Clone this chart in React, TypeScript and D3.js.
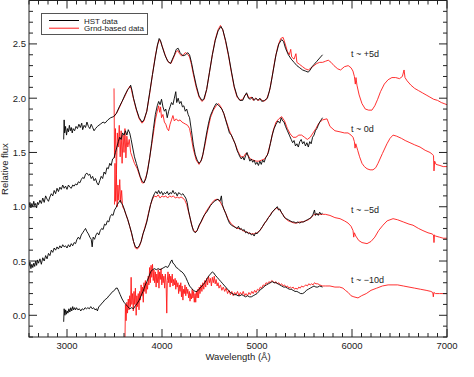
import React from "react";
import * as d3 from "d3";

type P = [number, number];

// Spectra: [wavelength (Å), relative flux]
const hstPlus5: P[] = [[2965,1.62],[2970,1.80],[2975,1.68],[2985,1.74],[2995,1.66],[3005,1.72],[3015,1.69],[3025,1.75],[3035,1.70],[3045,1.73],[3055,1.68],[3065,1.72],[3080,1.70],[3095,1.74],[3110,1.72],[3125,1.76],[3140,1.73],[3155,1.77],[3165,1.71],[3180,1.75],[3195,1.73],[3210,1.78],[3225,1.74],[3240,1.72],[3255,1.76],[3270,1.73],[3285,1.70],[3300,1.72],[3320,1.74],[3350,1.76],[3380,1.78],[3400,1.77],[3430,1.80],[3460,1.82],[3490,1.83],[3520,1.86],[3550,1.92],[3580,1.97],[3610,2.03],[3640,2.08],[3660,2.10],[3670,2.12],[3685,2.07],[3700,2.00],[3730,1.90],[3760,1.82],[3790,1.78],[3810,1.80],[3840,1.88],[3870,2.05],[3900,2.22],[3930,2.38],[3950,2.48],[3970,2.55],[3985,2.53],[4000,2.48],[4030,2.40],[4060,2.34],[4090,2.32],[4110,2.36],[4130,2.40],[4150,2.45],[4170,2.46],[4190,2.42],[4220,2.39],[4250,2.40],[4270,2.42],[4290,2.40],[4310,2.33],[4330,2.24],[4360,2.12],[4390,2.02],[4420,1.98],[4440,1.99],[4470,2.08],[4500,2.24],[4530,2.40],[4560,2.53],[4590,2.62],[4620,2.66],[4640,2.63],[4670,2.53],[4700,2.40],[4730,2.25],[4760,2.11],[4790,2.02],[4820,1.98],[4850,1.98],[4870,2.02],[4890,2.05],[4910,2.00],[4930,1.99],[4950,2.01],[4970,1.98],[4990,2.00],[5010,1.98],[5030,2.00],[5050,1.97],[5080,1.98],[5110,2.00],[5140,2.10],[5170,2.25],[5200,2.40],[5230,2.50],[5260,2.54],[5280,2.52],[5300,2.46],[5330,2.40],[5360,2.36],[5390,2.33],[5420,2.30],[5450,2.28],[5480,2.26],[5510,2.25],[5540,2.24],[5560,2.26],[5580,2.29],[5600,2.31],[5630,2.34],[5660,2.37],[5690,2.40]];

const grndPlus5: P[] = [[3495,1.83],[3520,1.86],[3550,1.91],[3580,1.97],[3610,2.02],[3640,2.08],[3660,2.11],[3675,2.09],[3690,2.03],[3710,1.96],[3730,1.89],[3760,1.81],[3790,1.77],[3810,1.79],[3840,1.88],[3870,2.04],[3900,2.22],[3930,2.39],[3955,2.50],[3975,2.54],[3990,2.51],[4010,2.46],[4040,2.38],[4070,2.33],[4095,2.32],[4120,2.37],[4145,2.42],[4165,2.44],[4185,2.41],[4205,2.39],[4225,2.40],[4245,2.42],[4265,2.41],[4290,2.38],[4310,2.31],[4330,2.22],[4360,2.10],[4390,2.01],[4420,1.97],[4445,1.99],[4470,2.08],[4500,2.24],[4530,2.40],[4560,2.54],[4590,2.63],[4615,2.67],[4640,2.63],[4670,2.52],[4700,2.39],[4730,2.24],[4760,2.10],[4790,2.01],[4820,1.98],[4850,1.99],[4875,2.03],[4895,2.04],[4915,2.00],[4940,2.01],[4960,1.98],[4985,2.00],[5010,1.98],[5040,1.99],[5070,1.97],[5100,1.99],[5130,2.06],[5160,2.20],[5190,2.36],[5220,2.48],[5250,2.55],[5275,2.56],[5300,2.49],[5320,2.43],[5340,2.40],[5355,2.45],[5365,2.38],[5390,2.36],[5410,2.41],[5420,2.33],[5450,2.31],[5480,2.29],[5510,2.27],[5540,2.26],[5570,2.28],[5600,2.30],[5630,2.32],[5660,2.33],[5690,2.33],[5720,2.34],[5750,2.35],[5780,2.33],[5810,2.30],[5850,2.27],[5880,2.26],[5920,2.29],[5960,2.30],[5990,2.28],[6010,2.25],[6025,2.20],[6035,2.13],[6042,2.19],[6052,2.12],[6075,2.03],[6105,1.95],[6140,1.90],[6175,1.89],[6210,1.89],[6240,1.93],[6270,1.99],[6300,2.06],[6340,2.13],[6380,2.17],[6420,2.19],[6460,2.19],[6500,2.18],[6530,2.20],[6548,2.26],[6558,2.19],[6580,2.16],[6620,2.12],[6660,2.09],[6700,2.07],[6740,2.05],[6780,2.03],[6820,2.01],[6860,1.99],[6900,1.98],[6940,1.96],[6970,1.95],[7000,1.94]];

const hstZero: P[] = [[2600,1.00],[2610,1.04],[2620,0.99],[2630,1.03],[2640,1.00],[2650,1.05],[2660,1.01],[2670,1.03],[2680,0.99],[2690,1.04],[2700,1.02],[2715,1.06],[2730,1.03],[2745,1.08],[2760,1.04],[2775,1.10],[2790,1.07],[2805,1.05],[2820,1.09],[2835,1.12],[2850,1.10],[2865,1.15],[2880,1.12],[2895,1.17],[2910,1.14],[2925,1.18],[2940,1.16],[2955,1.20],[2970,1.17],[2985,1.19],[3000,1.16],[3015,1.20],[3030,1.18],[3045,1.17],[3060,1.20],[3075,1.19],[3090,1.21],[3105,1.20],[3120,1.23],[3135,1.22],[3150,1.25],[3165,1.27],[3180,1.26],[3195,1.30],[3210,1.31],[3225,1.29],[3240,1.30],[3255,1.26],[3270,1.28],[3285,1.24],[3300,1.26],[3315,1.22],[3330,1.20],[3345,1.24],[3360,1.28],[3375,1.26],[3390,1.32],[3405,1.30],[3420,1.36],[3435,1.35],[3450,1.40],[3465,1.38],[3480,1.44],[3495,1.45],[3510,1.50],[3525,1.55],[3540,1.60],[3555,1.64],[3570,1.62],[3585,1.68],[3600,1.66],[3615,1.70],[3630,1.66],[3645,1.71],[3660,1.68],[3675,1.62],[3690,1.55],[3710,1.46],[3730,1.40],[3750,1.34],[3770,1.28],[3790,1.24],[3810,1.22],[3830,1.26],[3850,1.34],[3870,1.45],[3890,1.58],[3910,1.72],[3930,1.85],[3950,1.93],[3965,1.97],[3980,1.94],[3995,1.99],[4010,1.92],[4025,1.88],[4040,1.90],[4055,1.82],[4070,1.88],[4085,1.92],[4100,1.96],[4115,1.94],[4130,2.00],[4145,2.06],[4155,1.96],[4170,2.00],[4185,1.95],[4200,1.97],[4215,1.92],[4230,1.93],[4245,1.88],[4260,1.90],[4275,1.85],[4290,1.82],[4310,1.70],[4330,1.57],[4350,1.48],[4370,1.43],[4390,1.40],[4410,1.42],[4430,1.48],[4450,1.58],[4470,1.68],[4490,1.77],[4510,1.84],[4530,1.88],[4550,1.92],[4570,1.95],[4590,1.94],[4610,1.92],[4630,1.90],[4650,1.86],[4670,1.80],[4690,1.74],[4710,1.68],[4730,1.66],[4750,1.62],[4770,1.58],[4790,1.52],[4805,1.49],[4820,1.46],[4835,1.44],[4850,1.46],[4865,1.43],[4880,1.47],[4895,1.50],[4910,1.46],[4925,1.42],[4940,1.44],[4955,1.41],[4970,1.43],[4985,1.39],[5000,1.41],[5015,1.38],[5030,1.42],[5045,1.39],[5060,1.43],[5075,1.41],[5090,1.45],[5105,1.47],[5120,1.50],[5140,1.58],[5160,1.66],[5180,1.72],[5200,1.76],[5220,1.79],[5240,1.77],[5255,1.82],[5270,1.79],[5285,1.78],[5300,1.74],[5320,1.70],[5340,1.66],[5360,1.62],[5375,1.59],[5390,1.61],[5405,1.56],[5420,1.58],[5435,1.55],[5450,1.60],[5465,1.62],[5480,1.58],[5495,1.60],[5510,1.56],[5525,1.59],[5540,1.55],[5555,1.60],[5570,1.58],[5585,1.64],[5600,1.66],[5615,1.70],[5630,1.72],[5645,1.75],[5660,1.78],[5675,1.80],[5690,1.82]];

const grndZero: P[] = [[3495,2.09],[3500,1.45],[3510,1.72],[3520,1.30],[3530,1.68],[3540,1.55],[3550,1.75],[3560,1.46],[3570,1.70],[3580,1.40],[3590,1.66],[3600,1.50],[3610,1.72],[3620,1.45],[3630,1.65],[3640,1.55],[3655,1.62],[3670,1.50],[3690,1.45],[3710,1.40],[3740,1.35],[3770,1.27],[3790,1.22],[3810,1.22],[3840,1.30],[3870,1.45],[3900,1.62],[3930,1.80],[3950,1.88],[3965,1.93],[3975,1.87],[3985,1.92],[3995,1.82],[4010,1.85],[4025,1.78],[4040,1.76],[4055,1.72],[4070,1.70],[4085,1.76],[4100,1.80],[4115,1.84],[4130,1.79],[4150,1.81],[4170,1.79],[4190,1.80],[4210,1.78],[4230,1.77],[4250,1.76],[4270,1.75],[4290,1.72],[4310,1.63],[4330,1.53],[4360,1.43],[4390,1.39],[4420,1.44],[4450,1.56],[4480,1.70],[4510,1.82],[4540,1.89],[4570,1.93],[4595,1.95],[4620,1.92],[4650,1.86],[4680,1.78],[4710,1.70],[4740,1.64],[4770,1.58],[4800,1.51],[4830,1.46],[4860,1.46],[4880,1.49],[4900,1.48],[4930,1.44],[4960,1.43],[4990,1.42],[5020,1.42],[5050,1.43],[5080,1.44],[5110,1.48],[5140,1.58],[5170,1.70],[5200,1.78],[5230,1.81],[5260,1.83],[5290,1.79],[5320,1.72],[5350,1.67],[5380,1.64],[5410,1.64],[5440,1.66],[5470,1.66],[5500,1.64],[5530,1.62],[5560,1.64],[5590,1.68],[5620,1.72],[5650,1.77],[5690,1.80],[5737,1.81],[5768,1.74],[5820,1.70],[5874,1.69],[5920,1.68],[5958,1.68],[5990,1.66],[6011,1.64],[6025,1.60],[6032,1.54],[6040,1.58],[6060,1.52],[6080,1.46],[6105,1.40],[6130,1.37],[6158,1.35],[6190,1.34],[6221,1.34],[6250,1.36],[6274,1.40],[6320,1.49],[6368,1.58],[6400,1.63],[6432,1.66],[6470,1.65],[6520,1.63],[6560,1.61],[6610,1.59],[6660,1.57],[6716,1.55],[6770,1.52],[6821,1.50],[6850,1.48],[6858,1.47],[6863,1.33],[6870,1.42],[6885,1.39],[6926,1.38],[6960,1.37],[7000,1.37]];

const hstMinus5: P[] = [[2600,0.45],[2610,0.49],[2620,0.43],[2630,0.47],[2640,0.44],[2650,0.48],[2660,0.45],[2670,0.50],[2680,0.46],[2690,0.51],[2700,0.48],[2715,0.52],[2730,0.47],[2745,0.53],[2760,0.50],[2775,0.55],[2790,0.52],[2805,0.57],[2820,0.55],[2835,0.60],[2850,0.58],[2865,0.62],[2880,0.60],[2895,0.63],[2910,0.61],[2925,0.64],[2940,0.62],[2955,0.65],[2970,0.63],[2985,0.64],[3000,0.62],[3015,0.65],[3030,0.63],[3045,0.66],[3060,0.64],[3075,0.67],[3090,0.66],[3105,0.70],[3120,0.72],[3135,0.70],[3150,0.74],[3165,0.76],[3180,0.78],[3195,0.80],[3210,0.77],[3225,0.75],[3240,0.72],[3255,0.70],[3265,0.63],[3275,0.72],[3290,0.70],[3305,0.74],[3320,0.76],[3335,0.74],[3350,0.78],[3365,0.80],[3380,0.79],[3395,0.84],[3410,0.83],[3425,0.87],[3440,0.86],[3455,0.91],[3470,0.93],[3485,0.92],[3500,0.97],[3515,0.99],[3530,1.02],[3545,1.04],[3560,1.06],[3575,1.03],[3590,1.01],[3605,0.97],[3620,0.93],[3640,0.88],[3660,0.82],[3680,0.76],[3700,0.68],[3720,0.63],[3740,0.62],[3760,0.64],[3780,0.68],[3800,0.75],[3820,0.80],[3840,0.86],[3860,0.94],[3880,1.02],[3900,1.08],[3920,1.12],[3935,1.14],[3950,1.12],[3965,1.15],[3980,1.12],[3995,1.14],[4010,1.11],[4025,1.13],[4040,1.12],[4055,1.14],[4070,1.11],[4085,1.13],[4100,1.12],[4115,1.15],[4130,1.12],[4145,1.13],[4160,1.10],[4175,1.13],[4190,1.12],[4205,1.11],[4220,1.12],[4235,1.10],[4250,1.08],[4265,1.04],[4280,0.96],[4295,0.90],[4310,0.84],[4330,0.78],[4350,0.76],[4370,0.78],[4390,0.83],[4410,0.86],[4430,0.90],[4450,0.93],[4470,0.95],[4490,0.98],[4510,1.01],[4530,1.03],[4550,1.05],[4570,1.06],[4590,1.07],[4610,1.05],[4625,1.10],[4635,1.02],[4650,0.98],[4670,0.94],[4690,0.89],[4710,0.85],[4730,0.83],[4750,0.82],[4770,0.81],[4790,0.80],[4805,0.82],[4820,0.79],[4835,0.80],[4850,0.78],[4865,0.79],[4880,0.76],[4895,0.77],[4910,0.75],[4925,0.76],[4940,0.74],[4955,0.75],[4970,0.73],[4985,0.76],[5000,0.75],[5015,0.77],[5030,0.78],[5045,0.80],[5060,0.82],[5080,0.85],[5100,0.87],[5120,0.90],[5140,0.92],[5160,0.95],[5180,0.97],[5200,0.99],[5215,1.00],[5225,0.97],[5240,0.98],[5255,0.95],[5270,0.93],[5290,0.90],[5310,0.89],[5330,0.88],[5350,0.87],[5370,0.86],[5390,0.86],[5410,0.85],[5430,0.86],[5450,0.85],[5470,0.86],[5490,0.86],[5510,0.87],[5530,0.88],[5550,0.89],[5570,0.90],[5590,0.93],[5605,0.97],[5615,0.92],[5630,0.94],[5645,0.92],[5660,0.95],[5675,0.93],[5690,0.94]];

const grndMinus5: P[] = [[3500,1.02],[3505,1.40],[3512,1.05],[3520,1.30],[3528,1.00],[3536,1.20],[3545,1.06],[3555,1.25],[3565,1.04],[3575,1.15],[3585,1.00],[3600,0.98],[3620,0.93],[3640,0.88],[3660,0.82],[3680,0.75],[3700,0.68],[3720,0.62],[3740,0.61],[3760,0.63],[3780,0.68],[3800,0.75],[3820,0.81],[3840,0.87],[3860,0.95],[3880,1.02],[3900,1.07],[3920,1.10],[3940,1.09],[3960,1.11],[3980,1.08],[4000,1.10],[4020,1.09],[4040,1.10],[4060,1.08],[4080,1.10],[4100,1.09],[4120,1.10],[4140,1.08],[4160,1.09],[4180,1.08],[4200,1.09],[4220,1.08],[4240,1.06],[4260,1.02],[4280,0.95],[4300,0.88],[4320,0.81],[4340,0.77],[4360,0.77],[4380,0.80],[4400,0.84],[4430,0.89],[4460,0.95],[4490,0.99],[4520,1.03],[4550,1.06],[4580,1.07],[4610,1.05],[4640,1.00],[4670,0.94],[4700,0.88],[4730,0.84],[4760,0.82],[4790,0.80],[4820,0.80],[4850,0.78],[4880,0.77],[4910,0.76],[4940,0.75],[4970,0.75],[5000,0.76],[5030,0.78],[5060,0.82],[5090,0.86],[5120,0.90],[5150,0.94],[5180,0.97],[5210,0.99],[5240,0.97],[5270,0.93],[5300,0.89],[5330,0.87],[5360,0.86],[5390,0.85],[5420,0.85],[5450,0.86],[5480,0.86],[5510,0.87],[5540,0.88],[5570,0.90],[5600,0.93],[5630,0.93],[5660,0.93],[5690,0.93],[5720,0.93],[5768,0.92],[5820,0.90],[5874,0.89],[5920,0.87],[5958,0.85],[5990,0.82],[6011,0.78],[6018,0.72],[6025,0.76],[6040,0.73],[6070,0.69],[6105,0.67],[6158,0.66],[6200,0.68],[6240,0.72],[6280,0.78],[6326,0.83],[6370,0.87],[6432,0.89],[6480,0.88],[6540,0.86],[6600,0.84],[6642,0.83],[6700,0.80],[6747,0.78],[6800,0.76],[6842,0.75],[6858,0.74],[6863,0.67],[6868,0.74],[6880,0.73],[6920,0.72],[6960,0.71],[7000,0.71]];

const hstMinus10: P[] = [[2965,-0.06],[2970,0.06],[2978,0.00],[2986,0.05],[2994,0.01],[3002,0.04],[3010,0.02],[3020,0.06],[3030,0.03],[3040,0.07],[3050,0.04],[3060,0.08],[3070,0.05],[3080,0.07],[3090,0.05],[3100,0.07],[3115,0.05],[3130,0.06],[3145,0.04],[3160,0.06],[3175,0.05],[3190,0.07],[3205,0.06],[3220,0.07],[3235,0.06],[3250,0.08],[3265,0.06],[3280,0.07],[3295,0.05],[3310,0.06],[3320,0.04],[3335,0.08],[3350,0.09],[3365,0.11],[3380,0.12],[3395,0.14],[3410,0.15],[3425,0.16],[3440,0.18],[3455,0.19],[3470,0.21],[3485,0.22],[3500,0.23],[3515,0.25],[3530,0.25],[3545,0.22],[3560,0.19],[3580,0.15],[3600,0.12],[3620,0.10],[3640,0.08],[3660,0.06],[3680,0.07],[3700,0.06],[3720,0.09],[3740,0.11],[3760,0.14],[3780,0.18],[3800,0.22],[3820,0.27],[3840,0.31],[3860,0.35],[3880,0.40],[3900,0.42],[3920,0.43],[3940,0.42],[3960,0.43],[3980,0.42],[4000,0.43],[4020,0.44],[4040,0.45],[4060,0.44],[4080,0.47],[4095,0.50],[4105,0.51],[4115,0.48],[4130,0.47],[4150,0.44],[4170,0.43],[4190,0.41],[4210,0.40],[4230,0.38],[4250,0.35],[4270,0.31],[4290,0.27],[4310,0.25],[4330,0.23],[4350,0.22],[4370,0.22],[4390,0.24],[4410,0.26],[4430,0.28],[4450,0.30],[4470,0.33],[4490,0.36],[4510,0.38],[4530,0.40],[4545,0.39],[4560,0.37],[4580,0.35],[4600,0.33],[4620,0.31],[4640,0.29],[4660,0.27],[4680,0.25],[4700,0.23],[4720,0.21],[4740,0.20],[4760,0.19],[4780,0.19],[4800,0.18],[4820,0.18],[4840,0.19],[4860,0.18],[4880,0.17],[4900,0.18],[4920,0.17],[4940,0.17],[4960,0.18],[4980,0.19],[5000,0.20],[5020,0.22],[5040,0.24],[5060,0.25],[5080,0.27],[5100,0.28],[5120,0.29],[5140,0.30],[5160,0.31],[5180,0.30],[5200,0.30],[5220,0.29],[5240,0.28],[5260,0.27],[5280,0.26],[5300,0.26],[5320,0.25],[5340,0.24],[5360,0.24],[5380,0.23],[5400,0.22],[5420,0.22],[5440,0.21],[5460,0.20],[5480,0.20],[5500,0.21],[5520,0.23],[5540,0.24],[5560,0.25],[5580,0.26],[5600,0.27],[5620,0.26],[5640,0.26],[5660,0.27],[5690,0.26]];

const grndMinus10: P[] = [[3610,-0.25],[3615,0.10],[3622,-0.05],[3630,0.12],[3637,0.02],[3645,0.15],[3652,0.05],[3660,0.18],[3668,0.08],[3675,0.35],[3682,0.10],[3690,0.20],[3698,0.04],[3705,0.22],[3712,0.10],[3720,0.25],[3728,0.00],[3735,0.18],[3742,0.08],[3750,0.20],[3758,0.05],[3765,0.22],[3772,0.14],[3780,0.28],[3788,0.18],[3795,0.26],[3803,0.12],[3810,0.30],[3818,0.22],[3825,0.32],[3832,0.20],[3840,0.30],[3848,0.24],[3855,0.36],[3862,0.28],[3870,0.44],[3877,0.30],[3885,0.46],[3892,0.35],[3900,0.47],[3908,0.32],[3915,0.42],[3922,0.30],[3930,0.40],[3938,0.26],[3945,0.38],[3952,0.30],[3960,0.42],[3968,0.25],[3975,0.40],[3982,0.33],[3990,0.43],[3998,0.28],[4005,0.38],[4012,0.30],[4020,0.36],[4028,0.25],[4035,0.38],[4043,0.30],[4050,0.02],[4056,0.32],[4063,0.40],[4070,0.30],[4078,0.38],[4085,0.26],[4092,0.36],[4100,0.30],[4108,0.38],[4115,0.27],[4122,0.33],[4130,0.28],[4138,0.34],[4145,0.24],[4152,0.32],[4160,0.26],[4168,0.30],[4175,0.20],[4182,0.28],[4190,0.22],[4198,0.30],[4205,0.17],[4212,0.27],[4220,0.14],[4228,0.24],[4235,0.20],[4242,0.28],[4250,0.18],[4258,0.26],[4265,0.20],[4272,0.24],[4280,0.16],[4288,0.22],[4295,0.13],[4302,0.20],[4310,0.15],[4318,0.24],[4325,0.16],[4332,0.22],[4340,0.12],[4348,0.20],[4355,0.12],[4362,0.22],[4370,0.16],[4378,0.24],[4385,0.16],[4392,0.26],[4400,0.20],[4410,0.28],[4420,0.22],[4430,0.30],[4440,0.24],[4450,0.32],[4460,0.26],[4470,0.34],[4480,0.28],[4490,0.36],[4500,0.30],[4510,0.34],[4520,0.27],[4530,0.35],[4540,0.30],[4550,0.36],[4560,0.29],[4570,0.33],[4580,0.27],[4590,0.30],[4600,0.25],[4615,0.28],[4630,0.23],[4645,0.26],[4660,0.22],[4675,0.25],[4690,0.20],[4705,0.23],[4720,0.19],[4735,0.22],[4750,0.18],[4765,0.21],[4780,0.19],[4795,0.22],[4810,0.18],[4825,0.21],[4840,0.19],[4855,0.22],[4870,0.18],[4885,0.20],[4900,0.18],[4915,0.21],[4930,0.19],[4945,0.22],[4960,0.20],[4975,0.23],[4990,0.21],[5005,0.24],[5020,0.23],[5035,0.26],[5050,0.25],[5065,0.28],[5080,0.27],[5095,0.30],[5110,0.29],[5125,0.31],[5140,0.30],[5155,0.32],[5170,0.31],[5185,0.30],[5200,0.31],[5215,0.29],[5230,0.30],[5245,0.28],[5260,0.29],[5275,0.27],[5290,0.28],[5305,0.26],[5320,0.27],[5335,0.25],[5350,0.26],[5365,0.25],[5380,0.26],[5395,0.24],[5410,0.25],[5425,0.24],[5440,0.26],[5455,0.25],[5470,0.27],[5485,0.26],[5500,0.27],[5515,0.28],[5530,0.27],[5545,0.29],[5560,0.28],[5575,0.29],[5590,0.28],[5605,0.30],[5620,0.29],[5640,0.29],[5660,0.28],[5690,0.27],[5720,0.27],[5768,0.27],[5820,0.26],[5870,0.26],[5905,0.25],[5930,0.23],[5960,0.21],[5990,0.18],[6020,0.17],[6063,0.16],[6100,0.18],[6150,0.20],[6200,0.23],[6260,0.25],[6320,0.27],[6380,0.28],[6432,0.28],[6480,0.28],[6540,0.27],[6600,0.26],[6660,0.25],[6720,0.24],[6780,0.23],[6830,0.22],[6850,0.21],[6856,0.17],[6862,0.21],[6880,0.20],[6920,0.20],[6960,0.20],[7000,0.20]];

const epochLabels = ["t ~ +5d", "t ~ 0d", "t ~ \u22125d", "t ~ \u221210d"];
const epochLabelFlux = [2.38, 1.69, 0.94, 0.30];
const epochLabelWave = 6000;
const xMajorTicks = [3000, 4000, 5000, 6000, 7000];
const yMajorTicks = [0.0, 0.5, 1.0, 1.5, 2.0, 2.5];
const legendLabels = ["HST data", "Grnd-based data"];
const seriesColors = ["#000000", "#ff1a1a"];

const W = 474;
const H = 377;
const L = 29, R = 447, T = 0.5, B = 337;
const FONT = "'Liberation Sans', Arial, Helvetica, sans-serif";

export default function App() {
  const x = d3.scaleLinear().domain([2600, 7000]).range([L, R]);
  const y = d3.scaleLinear().domain([-0.2, 2.9]).range([B, T]);
  const line = d3.line<P>().x(d => x(d[0])).y(d => y(d[1]));

  const xMinor = d3.range(2600, 7001, 100).filter(v => !xMajorTicks.includes(v));
  const yMinor = d3.range(-2, 30).map(v => v / 10).filter(v => !yMajorTicks.some(m => Math.abs(m - v) < 1e-9));

  const reds = [grndPlus5, grndZero, grndMinus5, grndMinus10];
  const blacks = [hstPlus5, hstZero, hstMinus5, hstMinus10];

  return (
    <svg width={W} height={H} style={{ position: "absolute", left: 0, top: 0, background: "#fff" }} fontFamily={FONT}>
      <defs>
        <clipPath id="plotclip">
          <rect x={L} y={T} width={R - L} height={B - T} />
        </clipPath>
      </defs>
      <rect x={0} y={0} width={W} height={H} fill="#fff" />
      <g clipPath="url(#plotclip)" fill="none" strokeWidth={0.9} strokeLinejoin="round">
        {reds.map((s, i) => (
          <path key={"r" + i} d={line(s) || ""} stroke={seriesColors[1]} />
        ))}
        {blacks.map((s, i) => (
          <path key={"b" + i} d={line(s) || ""} stroke={seriesColors[0]} />
        ))}
      </g>
      <rect x={L} y={T} width={R - L} height={B - T} fill="none" stroke="#222" strokeWidth={1} />
      <g stroke="#222" strokeWidth={1}>
        {xMajorTicks.map(v => (
          <g key={"xM" + v}>
            <line x1={x(v)} x2={x(v)} y1={B} y2={B - 8} />
            <line x1={x(v)} x2={x(v)} y1={T} y2={T + 8} />
          </g>
        ))}
        {xMinor.map(v => (
          <g key={"xm" + v}>
            <line x1={x(v)} x2={x(v)} y1={B} y2={B - 4} />
            <line x1={x(v)} x2={x(v)} y1={T} y2={T + 4} />
          </g>
        ))}
        {yMajorTicks.map(v => (
          <g key={"yM" + v}>
            <line x1={L} x2={L + 8} y1={y(v)} y2={y(v)} />
            <line x1={R} x2={R - 8} y1={y(v)} y2={y(v)} />
          </g>
        ))}
        {yMinor.map(v => (
          <g key={"ym" + v}>
            <line x1={L} x2={L + 4} y1={y(v)} y2={y(v)} />
            <line x1={R} x2={R - 4} y1={y(v)} y2={y(v)} />
          </g>
        ))}
      </g>
      <g fill="#222" fontSize={9.5}>
        {xMajorTicks.map(v => (
          <text key={"xl" + v} x={x(v)} y={349} textAnchor="middle">{v}</text>
        ))}
        {yMajorTicks.map(v => (
          <text key={"yl" + v} x={26} y={y(v) + 3.5} textAnchor="end">{v.toFixed(1)}</text>
        ))}
      </g>
      <text x={238} y={360} textAnchor="middle" fontSize={9.5} fill="#222">Wavelength (Å)</text>
      <text transform={`translate(8,169) rotate(-90)`} textAnchor="middle" fontSize={9.5} fill="#222">Relative flux</text>
      <g fontSize={9} fill="#222">
        {epochLabels.map((t, i) => (
          <text key={t} x={x(epochLabelWave) - 1} y={y(epochLabelFlux[i])}>{t}</text>
        ))}
      </g>
      <g>
        <rect x={41.5} y={13.5} width={106} height={21} fill="#fff" stroke="#555" strokeWidth={1} />
        {legendLabels.map((t, i) => (
          <g key={t}>
            <line x1={49} x2={79} y1={20.5 + i * 7.7} y2={20.5 + i * 7.7} stroke={seriesColors[i]} strokeWidth={1} />
            <text x={84} y={23.5 + i * 7.7} fontSize={8} fill="#222">{t}</text>
          </g>
        ))}
      </g>
    </svg>
  );
}
